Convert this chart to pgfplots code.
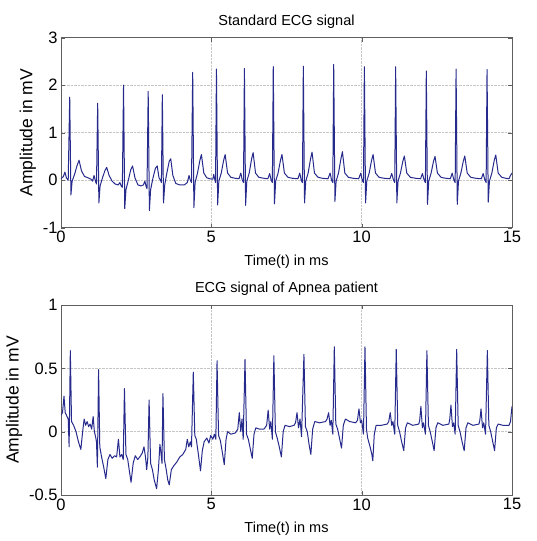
\documentclass[border=0pt]{standalone}
\usepackage{pgfplots}
\pgfplotsset{compat=1.18}
\usepackage{fontspec}
\setmainfont{Liberation Sans}
\definecolor{ecg}{RGB}{38,42,140}
\definecolor{frame}{RGB}{95,95,95}
\begin{document}
\begin{tikzpicture}[x=1pt,y=1pt]
\path (0,0) rectangle (536,541);
\pgfplotsset{ecgax/.style={
  scale only axis, width=451pt, height=190pt,
  xmin=0, xmax=15, xtick={0,5,10,15},
  grid=major, grid style={densely dotted, gray!45},
  axis line style={frame}, tick style={frame},
  major tick length=4pt, tick align=inside,
  /pgf/number format/assume math mode=true,
  ticklabel style={font=\fontsize{16.5}{18}\selectfont},
  xlabel style={font=\fontsize{14.5}{16}\selectfont, yshift=-5pt},
  ylabel style={font=\fontsize{17.5}{19}\selectfont},
  title style={font=\fontsize{14.5}{16}\selectfont},
  xlabel={Time(t) in ms}, ylabel={Amplitude in mV},
}}
\begin{axis}[ecgax, at={(61pt,313.3pt)}, anchor=south west,
  ymin=-1, ymax=3, ytick={-1,0,1,2,3},
  title={Standard ECG signal}]
\addplot[ecg, line width=1pt, line join=round] coordinates {
(0,0.03) (0.08,0.08) (0.13,0.17) (0.18,0.05) (0.24,0.0) (0.29,1.75) (0.33,-0.31) (0.37,-0.02) (0.45,0.12) (0.53,0.3) (0.6,0.42) (0.68,0.2) (0.78,0.08) (0.9,0.05) (1.0,0.02) (1.05,-0.02) (1.1,0.1) (1.15,-0.03) (1.18,-0.08) (1.22,1.62) (1.26,-0.48) (1.3,-0.12) (1.38,0.05) (1.46,0.2) (1.52,0.27) (1.6,0.1) (1.7,-0.02) (1.8,-0.08) (1.9,-0.1) (1.96,-0.05) (2.0,-0.12) (2.04,-0.15) (2.08,2.0) (2.12,-0.6) (2.16,-0.2) (2.24,0.0) (2.32,0.22) (2.38,0.3) (2.46,0.05) (2.56,-0.1) (2.66,-0.12) (2.74,-0.1) (2.79,-0.02) (2.83,-0.13) (2.86,-0.18) (2.9,1.87) (2.94,-0.64) (2.98,-0.2) (3.06,0.05) (3.14,0.25) (3.2,0.3) (3.26,0.05) (3.31,0.0) (3.34,-0.05) (3.37,1.8) (3.41,-0.48) (3.45,-0.1) (3.52,0.15) (3.6,0.4) (3.65,0.45) (3.72,0.1) (3.82,-0.07) (3.95,-0.1) (4.1,-0.1) (4.2,-0.05) (4.26,0.1) (4.3,0.0) (4.34,-0.05) (4.38,2.27) (4.42,-0.58) (4.46,-0.05) (4.54,0.15) (4.62,0.42) (4.67,0.54) (4.75,0.15) (4.85,0.05) (4.95,0.03) (5.05,0.02) (5.08,0.12) (5.12,0.0) (5.14,-0.05) (5.17,2.34) (5.21,-0.52) (5.25,-0.02) (5.33,0.15) (5.41,0.42) (5.46,0.54) (5.54,0.15) (5.65,0.06) (5.8,0.04) (5.92,0.03) (5.98,0.15) (6.03,0.0) (6.07,-0.05) (6.1,2.35) (6.14,-0.53) (6.18,-0.02) (6.26,0.15) (6.34,0.45) (6.39,0.58) (6.47,0.15) (6.58,0.06) (6.75,0.04) (6.88,0.03) (6.94,0.14) (6.99,0.0) (7.03,-0.05) (7.06,2.39) (7.1,-0.5) (7.14,-0.02) (7.22,0.15) (7.3,0.42) (7.35,0.54) (7.43,0.15) (7.55,0.06) (7.7,0.04) (7.88,0.03) (7.94,0.15) (7.99,0.0) (8.03,-0.05) (8.06,2.4) (8.1,-0.48) (8.14,-0.02) (8.22,0.15) (8.3,0.45) (8.35,0.59) (8.43,0.15) (8.55,0.06) (8.7,0.04) (8.88,0.03) (8.95,0.15) (9.0,0.0) (9.04,-0.05) (9.07,2.44) (9.11,-0.45) (9.15,-0.02) (9.23,0.15) (9.31,0.45) (9.36,0.6) (9.44,0.15) (9.56,0.06) (9.72,0.04) (9.9,0.03) (9.97,0.15) (10.02,0.0) (10.06,-0.05) (10.09,2.39) (10.13,-0.48) (10.17,-0.02) (10.25,0.15) (10.33,0.42) (10.38,0.54) (10.46,0.15) (10.58,0.06) (10.75,0.04) (10.94,0.03) (11.0,0.14) (11.06,0.0) (11.1,-0.05) (11.13,2.39) (11.17,-0.48) (11.21,-0.02) (11.29,0.15) (11.37,0.4) (11.42,0.51) (11.5,0.15) (11.62,0.06) (11.8,0.04) (11.96,0.03) (12.02,0.14) (12.08,0.0) (12.12,-0.05) (12.15,2.3) (12.19,-0.51) (12.23,-0.02) (12.31,0.15) (12.39,0.4) (12.44,0.5) (12.52,0.15) (12.64,0.06) (12.8,0.04) (12.95,0.03) (13.01,0.15) (13.07,0.0) (13.11,-0.05) (13.14,2.34) (13.18,-0.51) (13.22,-0.02) (13.3,0.15) (13.38,0.4) (13.43,0.51) (13.51,0.15) (13.63,0.06) (13.8,0.04) (13.98,0.03) (14.04,0.14) (14.1,0.0) (14.14,-0.05) (14.17,2.33) (14.21,-0.46) (14.25,-0.02) (14.33,0.15) (14.41,0.42) (14.46,0.53) (14.54,0.15) (14.66,0.06) (14.8,0.04) (14.9,0.03) (14.95,0.1) (15,0.15)
};
\end{axis}
\begin{axis}[ecgax, at={(61pt,46pt)}, anchor=south west,
  ymin=-0.5, ymax=1, ytick={-0.5,0,0.5,1},
  title={ECG signal of Apnea patient}]
\addplot[ecg, line width=1pt, line join=round] coordinates {
(0,0.13) (0.05,0.15) (0.1,0.28) (0.14,0.15) (0.2,0.12) (0.24,0.1) (0.27,-0.12) (0.31,0.64) (0.35,0.08) (0.42,0.05) (0.5,0.0) (0.58,-0.08) (0.66,-0.14) (0.72,0.0) (0.77,0.1) (0.82,0.05) (0.87,0.08) (0.92,0.04) (0.97,0.06) (1.02,0.02) (1.07,0.12) (1.11,0.0) (1.15,-0.04) (1.18,-0.08) (1.21,-0.28) (1.25,0.49) (1.29,-0.12) (1.35,-0.2) (1.42,-0.28) (1.49,-0.37) (1.56,-0.22) (1.63,-0.18) (1.7,-0.21) (1.78,-0.19) (1.85,-0.2) (1.91,-0.06) (1.96,-0.2) (2.02,-0.18) (2.07,-0.22) (2.11,0.34) (2.16,-0.18) (2.22,-0.22) (2.28,-0.32) (2.33,-0.4) (2.4,-0.25) (2.47,-0.19) (2.55,-0.22) (2.62,-0.2) (2.7,-0.17) (2.76,-0.12) (2.81,-0.2) (2.85,-0.3) (2.89,-0.2) (2.93,0.25) (2.98,-0.25) (3.04,-0.3) (3.1,-0.38) (3.18,-0.45) (3.24,-0.3) (3.29,-0.1) (3.33,-0.18) (3.36,-0.25) (3.39,0.3) (3.44,-0.22) (3.5,-0.3) (3.55,-0.38) (3.6,-0.42) (3.67,-0.3) (3.75,-0.27) (3.85,-0.24) (3.95,-0.2) (4.05,-0.18) (4.15,-0.14) (4.2,-0.06) (4.25,-0.12) (4.3,-0.08) (4.34,-0.12) (4.4,0.47) (4.45,-0.03) (4.5,-0.06) (4.57,-0.18) (4.64,-0.31) (4.7,-0.15) (4.76,-0.08) (4.85,-0.05) (4.92,-0.09) (4.98,-0.03) (5.05,-0.06) (5.1,-0.02) (5.15,-0.06) (5.19,0.56) (5.24,-0.03) (5.3,-0.07) (5.37,-0.17) (5.43,-0.26) (5.49,-0.06) (5.54,0.0) (5.65,-0.02) (5.8,-0.01) (5.88,0.02) (5.93,0.15) (5.98,0.0) (6.02,0.1) (6.06,-0.06) (6.12,0.57) (6.17,-0.02) (6.23,-0.06) (6.3,-0.14) (6.36,-0.21) (6.42,-0.02) (6.48,0.03) (6.6,0.02) (6.75,0.02) (6.84,0.05) (6.89,0.17) (6.94,0.02) (6.98,0.08) (7.03,-0.06) (7.08,0.6) (7.13,0.0) (7.19,-0.05) (7.26,-0.12) (7.33,-0.2) (7.39,0.0) (7.45,0.05) (7.6,0.04) (7.75,0.05) (7.8,0.07) (7.85,0.15) (7.9,0.03) (7.95,0.1) (8.0,-0.04) (8.08,0.61) (8.13,0.04) (8.19,0.0) (8.25,-0.1) (8.31,-0.18) (8.37,0.02) (8.44,0.08) (8.6,0.07) (8.8,0.08) (8.85,0.1) (8.9,0.15) (8.95,0.05) (8.99,0.09) (9.04,-0.02) (9.09,0.67) (9.14,0.06) (9.2,0.02) (9.27,-0.06) (9.33,-0.13) (9.39,0.05) (9.46,0.1) (9.6,0.08) (9.8,0.07) (9.86,0.09) (9.91,0.18) (9.96,0.07) (10.0,0.09) (10.06,-0.02) (10.11,0.67) (10.16,0.02) (10.2,-0.05) (10.28,-0.12) (10.34,-0.18) (10.37,-0.23) (10.42,-0.02) (10.48,0.05) (10.65,0.05) (10.85,0.06) (10.9,0.08) (10.95,0.15) (11.0,0.05) (11.04,0.08) (11.1,-0.02) (11.15,0.65) (11.2,0.05) (11.26,0.0) (11.33,-0.08) (11.4,-0.15) (11.46,0.03) (11.52,0.07) (11.7,0.05) (11.9,0.06) (11.93,0.09) (11.97,0.2) (12.02,0.03) (12.06,0.07) (12.12,-0.02) (12.17,0.64) (12.22,0.05) (12.28,0.0) (12.35,-0.08) (12.41,-0.15) (12.47,0.03) (12.53,0.07) (12.7,0.05) (12.9,0.06) (12.93,0.1) (12.97,0.21) (13.02,0.04) (13.06,0.07) (13.11,-0.02) (13.16,0.65) (13.21,0.05) (13.27,0.0) (13.34,-0.08) (13.41,-0.15) (13.47,0.03) (13.53,0.07) (13.7,0.05) (13.9,0.06) (13.93,0.09) (13.97,0.18) (14.02,0.03) (14.06,0.07) (14.12,-0.02) (14.18,0.64) (14.23,0.05) (14.29,0.0) (14.36,-0.08) (14.42,-0.15) (14.48,0.03) (14.54,0.06) (14.7,0.05) (14.9,0.05) (14.95,0.08) (15,0.2)
};
\end{axis}
\end{tikzpicture}
\end{document}
